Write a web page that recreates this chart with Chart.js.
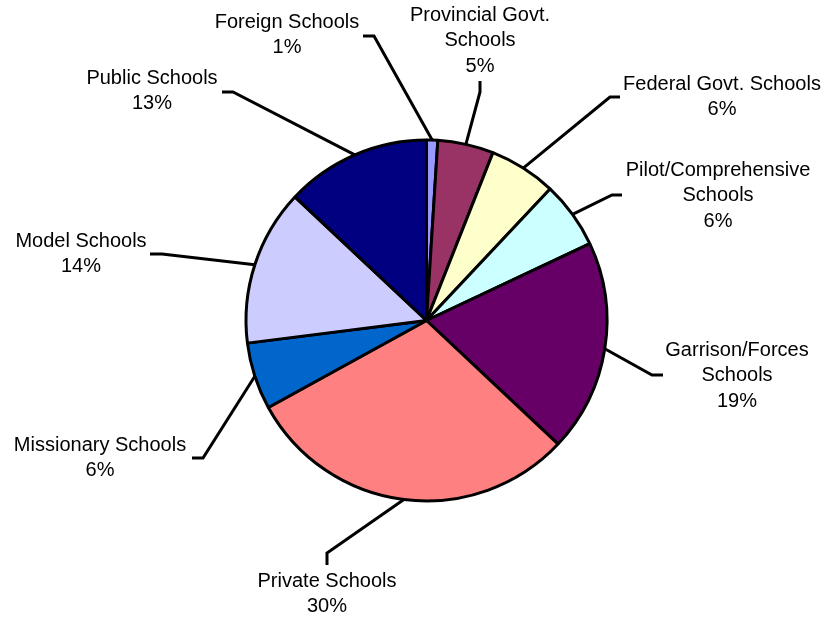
<!DOCTYPE html>
<html>
<head>
<meta charset="utf-8">
<title>Schools by Type</title>
<script src="https://cdn.jsdelivr.net/npm/chart.js@4.4.1/dist/chart.umd.min.js"></script>
<style>
    html, body { margin: 0; padding: 0; background: #fff; }
    #wrap { width: 827px; height: 617px; position: relative; }
</style>
</head>
<body>
<div id="wrap"><canvas id="schoolChart"></canvas></div>
<script>
// School types, clockwise from 12 o'clock
const schoolTypes = [
    ['Foreign Schools'],
    ['Provincial Govt.', 'Schools'],
    ['Federal Govt. Schools'],
    ['Pilot/Comprehensive', 'Schools'],
    ['Garrison/Forces', 'Schools'],
    ['Private Schools'],
    ['Missionary Schools'],
    ['Model Schools'],
    ['Public Schools']
];

// share of schools, percent
const shares = [1, 5, 6, 6, 19, 30, 6, 14, 13];

const sliceColors = ['#9999FF', '#993366', '#FFFFCC', '#CCFFFF', '#660066',
                     '#FF8080', '#0066CC', '#CCCCFF', '#000080'];

// where each label sits: text centre, elbow of the leader line, and the short tick after the elbow
const labelLayout = [
    { tx: 287, ty: 22,  ex: 374, ey: 36,  dx: -11, dy: 0 },
    { tx: 480, ty: 15,  ex: 480, ey: 92,  dx: 0,   dy: -11 },
    { tx: 722, ty: 84,  ex: 610, ey: 97,  dx: 10,  dy: 0 },
    { tx: 718, ty: 170, ex: 612, ey: 195, dx: 10,  dy: 0 },
    { tx: 737, ty: 350, ex: 652, ey: 375, dx: 11,  dy: 0 },
    { tx: 327, ty: 581, ex: 327, ey: 553, dx: 0,   dy: 12 },
    { tx: 100, ty: 445, ex: 203, ey: 458, dx: -11, dy: 0 },
    { tx: 81,  ty: 241, ex: 162, ey: 254, dx: -12, dy: 0 },
    { tx: 152, ty: 78,  ex: 233, ey: 92,  dx: -11, dy: 0 }
];

const LINE_HEIGHT = 25.5;

// leader lines and the outside labels
const outsideLabels = {
    id: 'outsideLabels',
    afterDatasetsDraw(chart) {
        const ctx = chart.ctx;
        const arcs = chart.getDatasetMeta(0).data;
        ctx.save();
        arcs.forEach((arc, i) => {
            const lay = labelLayout[i];
            const p = arc.getProps(['x', 'y', 'startAngle', 'endAngle', 'outerRadius'], true);
            const mid = (p.startAngle + p.endAngle) / 2;
            const ax = p.x + Math.cos(mid) * p.outerRadius;
            const ay = p.y + Math.sin(mid) * p.outerRadius;

            ctx.strokeStyle = '#000';
            ctx.lineWidth = 3;
            ctx.lineJoin = 'miter';
            ctx.beginPath();
            ctx.moveTo(ax, ay);
            ctx.lineTo(lay.ex, lay.ey);
            ctx.lineTo(lay.ex + lay.dx, lay.ey + lay.dy);
            ctx.stroke();

            const lines = schoolTypes[i].concat([shares[i] + '%']);
            ctx.fillStyle = '#000';
            ctx.font = '20px "Liberation Sans", Arial, sans-serif';
            ctx.textAlign = 'center';
            ctx.textBaseline = 'middle';
            lines.forEach((txt, k) => {
                ctx.fillText(txt, lay.tx, lay.ty + k * LINE_HEIGHT);
            });
        });
        ctx.restore();
    }
};

const ctx = document.getElementById('schoolChart').getContext('2d');
const schoolChart = new Chart(ctx, {
    type: 'pie',
    data: {
        labels: schoolTypes.map(t => t.join(' ')),
        datasets: [{
            data: shares,
            backgroundColor: sliceColors,
            borderColor: '#000',
            borderWidth: 3
        }]
    },
    options: {
        responsive: true,
        maintainAspectRatio: false,
        animation: false,
        radius: 180.5,
        layout: { padding: { left: 26, top: 24, right: 0, bottom: 0 } },
        plugins: {
            legend: { display: false },
            tooltip: { enabled: false }
        }
    },
    plugins: [outsideLabels]
});
</script>
</body>
</html>
